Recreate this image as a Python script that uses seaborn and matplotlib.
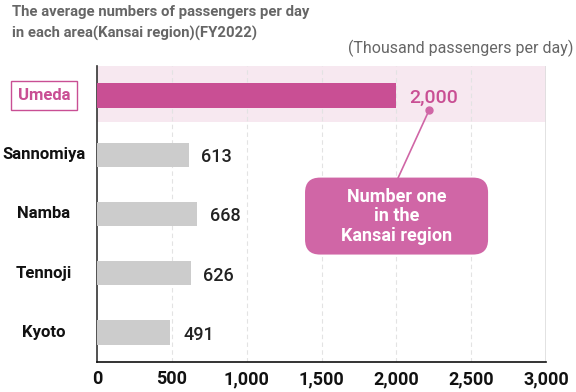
import matplotlib
matplotlib.use("Agg")
import matplotlib.pyplot as plt
import seaborn as sns
import pandas as pd
from matplotlib.patches import FancyBboxPatch

areas = ["Umeda", "Sannomiya", "Namba", "Tennoji", "Kyoto"]
passengers = [2000, 613, 668, 626, 491]
value_labels = ["2,000", "613", "668", "626", "491"]
xticks = [0, 500, 1000, 1500, 2000, 2500, 3000]
xtick_labels = ["0", "500", "1,000", "1,500", "2,000", "2,500", "3,000"]

PINK = "#C94F94"
BOX = "#D066A6"
GRAY = "#CCCCCC"
BAND = "#F7E8F0"

df = pd.DataFrame({"area": areas, "value": passengers})

sns.set_style("white")
plt.rcParams["font.family"] = ["Roboto", "DejaVu Sans"]

fig = plt.figure(figsize=(5.76, 3.92), dpi=100)
ax = fig.add_axes([97/576, 1-362/392, (546-97)/576, (362-66)/392])

palette = [PINK] + [GRAY]*4
sns.barplot(data=df, y="area", x="value", hue="area", palette=palette, saturation=1,
            orient="h", width=0.41, ax=ax, legend=False, zorder=3, linewidth=0)

ax.axhspan(-0.5, 0.44, color=BAND, zorder=0, lw=0)
ax.set_xlim(0, 3000)
ax.set_ylim(4.5, -0.5)
ax.set_xticks(xticks)
ax.set_xticklabels(xtick_labels, fontsize=13, fontweight="bold", color="#111111")
ax.tick_params(axis="x", length=0, pad=6)
for x in xticks[1:-1]:
    ax.axvline(x, color="#E3E3E3", lw=0.8, ls=(0, (4, 3)), zorder=1)
ax.axvline(3000, color="#DDDDDD", lw=1.2, zorder=1)
ax.set_xlabel("")
ax.set_ylabel("")
ax.set_yticks(range(len(areas)))
ax.set_yticklabels([""]*len(areas))
ax.tick_params(axis="y", length=0)
for s in ["top", "right"]:
    ax.spines[s].set_visible(False)
ax.spines["left"].set_color("#333333")
ax.spines["bottom"].set_color("#111111")
ax.spines["left"].set_linewidth(1.2)
ax.spines["bottom"].set_linewidth(1.2)

# category labels
ytr = ax.get_yaxis_transform()
lx = (44 - 97) / 449
for i, a in enumerate(areas):
    if i == 0:
        ax.text(lx, i, a, transform=ytr, ha="center", va="center", fontsize=12, fontweight="bold",
                color=PINK, bbox=dict(boxstyle="square,pad=0.42", fc="white", ec=PINK, lw=1),
                clip_on=False)
    else:
        ax.text(lx, i, a, transform=ytr, ha="center", va="center", fontsize=12, fontweight="bold",
                color="#111111", clip_on=False)

# value labels
for i, (v, lab) in enumerate(zip(passengers, value_labels)):
    ax.text(v + 85, i + 0.04, lab, ha="left", va="center",
            fontsize=14 if i == 0 else 13, fontweight="medium",
            color=PINK if i == 0 else "#222222")

# callout
ax.plot([2220, 2010], [0.24, 1.40], color=BOX, lw=1.2, zorder=4)
ax.plot([2220], [0.24], "o", color=BOX, ms=5, zorder=5)
box = FancyBboxPatch((1390, 1.385), 1223, 1.30, boxstyle="round,pad=0,rounding_size=100",
                     fc=BOX, ec="none", zorder=5, mutation_aspect=0.00253)
ax.add_patch(box)
ax.text(1390 + 611, 2.04, "Number one\nin the\nKansai region", ha="center", va="center",
        color="white", fontsize=13, fontweight="bold", linespacing=1.12, zorder=6)

fig.text(12/576, 1-5/392, "The average numbers of passengers per day\nin each area(Kansai region)(FY2022)",
         ha="left", va="top", fontsize=10.7, fontweight="bold", color="#666666", linespacing=1.6)
fig.text(574/576, 1-48/392, "(Thousand passengers per day)", ha="right", va="center",
         fontsize=11.5, color="#666666")

fig.savefig("out.png", dpi=100)
